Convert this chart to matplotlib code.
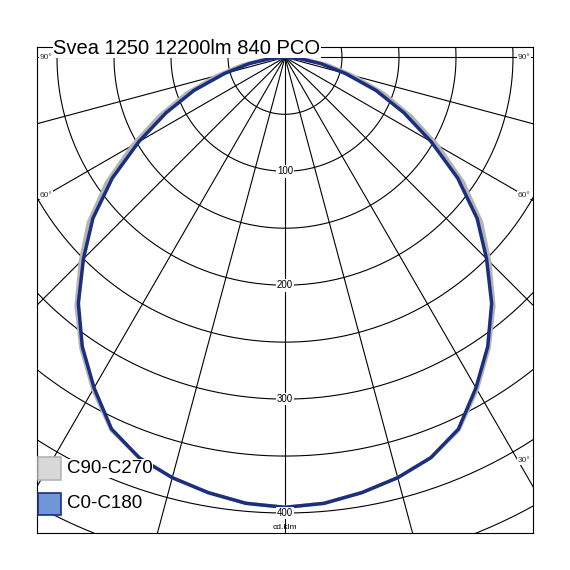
import numpy as np
import matplotlib
matplotlib.use("Agg")
from matplotlib import pyplot as plt
from matplotlib.patches import Rectangle

title = "Svea 1250 12200lm 840 PCO"
angles = np.arange(0, 95, 5)
c0_c180 = [395, 393, 388, 382, 374, 360, 335, 310, 282, 250, 220, 185, 148, 115, 85, 55, 32, 13, 0]
c90_c270 = [395, 393, 388, 382, 374, 361, 337, 312, 285, 254, 225, 191, 155, 122, 92, 62, 38, 17, 2]
ring_values = [50, 100, 150, 200, 250, 300, 350, 400, 450, 500]
ring_labels = [100, 200, 300, 400]
spoke_angles = np.arange(-90, 91, 15)
series = [("C90-C270", c90_c270, "#b4b4b4", "#d8d8d8"), ("C0-C180", c0_c180, "#1a2f80", "#7096d8")]

def to_xy(theta_deg, r):
    t = np.radians(theta_deg)
    return r * np.sin(t), -r * np.cos(t)

fig = plt.figure(figsize=(5.7, 5.7), dpi=100)
ax = fig.add_axes([0.065, 0.065, 0.87, 0.852])
xmin, xmax, ymin, ymax = -217.5, 217.5, -417.5, 8.8
ax.set_xlim(xmin, xmax)
ax.set_ylim(ymin, ymax)
ax.set_aspect("auto")
ax.set_xticks([]); ax.set_yticks([])

# grid
tt = np.linspace(-180, 180, 721)
for rv in ring_values:
    x, y = to_xy(tt, rv)
    ax.plot(x, y, color="black", lw=0.8, zorder=1)
for a in spoke_angles:
    x, y = to_xy(np.array([a, a]), np.array([0, 700]))
    ax.plot(x, y, color="black", lw=0.8, zorder=1)

# curves (symmetric)
for name, vals, edge, face in series:
    th = np.concatenate([-angles[::-1], angles[1:]])
    rr = np.concatenate([np.array(vals)[::-1], np.array(vals)[1:]])
    x, y = to_xy(th, rr)
    ax.plot(x, y, color=edge, lw=2.5, zorder=3)

for v in ring_labels:
    x, y = to_xy(0, v)
    ax.text(x, y, str(v), ha="center", va="center", fontsize=7, family="Liberation Sans",
            bbox=dict(facecolor="white", edgecolor="none", pad=1), zorder=4)
ax.text(0, ymin + 2, "cd.klm", ha="center", va="bottom", fontsize=6, family="Liberation Sans")

# angle labels where spokes meet the frame
for a, yy in [(90, 0), (60, -121), (30, -354)]:
    for s in (-1, 1):
        ax.text(xmax - 2 if s > 0 else xmin + 2, yy, f"{a}°", fontsize=6, family="Liberation Sans",
                ha="right" if s > 0 else "left", va="center", color="#333333",
                bbox=dict(facecolor="white", edgecolor="none", pad=0.5), zorder=4)

ax.text(xmin + 14, ymax - 1, title, fontsize=14.5, family="Liberation Sans", va="center", ha="left",
        bbox=dict(facecolor="white", edgecolor="none", pad=0.3), zorder=5)

# legend
for i, (name, vals, edge, face) in enumerate(series):
    y0 = -361 - i * 31
    ax.add_patch(Rectangle((xmin + 1, y0 - 10), 20, 20, facecolor=face, edgecolor=edge, lw=1.2, zorder=5))
    ax.text(xmin + 26, y0, name, fontsize=13.5, family="Liberation Sans", va="center", ha="left",
            bbox=dict(facecolor="white", edgecolor="none", pad=0.5), zorder=5)

for sp in ax.spines.values():
    sp.set_linewidth(0.8)
fig.savefig("out.png", dpi=100)
